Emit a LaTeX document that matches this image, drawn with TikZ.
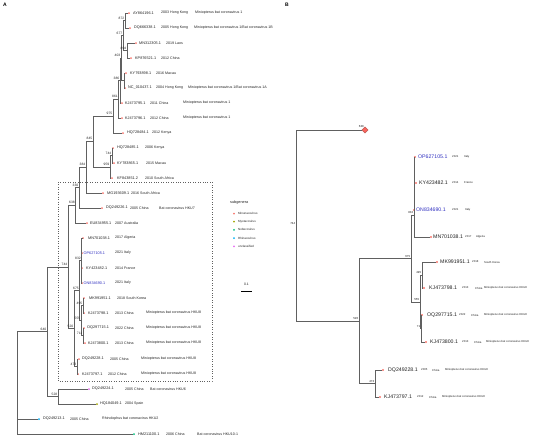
\documentclass[tikz,border=0pt]{standalone}
\usepackage{fontspec}
\setmainfont{Liberation Sans}
\usetikzlibrary{shapes.geometric}
\definecolor{cMin}{HTML}{F8766D}
\definecolor{cMyo}{HTML}{A3A500}
\definecolor{cNob}{HTML}{00BF7D}
\definecolor{cRhi}{HTML}{00B0F6}
\definecolor{cUnc}{HTML}{E76BF3}
\definecolor{brc}{HTML}{606060}
\definecolor{cBlue}{HTML}{3030C0}
\definecolor{txt}{HTML}{202020}
\begin{document}
\begin{tikzpicture}[x=1pt,y=-1pt,
  br/.style={draw=brc,line width=0.45pt},
  dotA/.style={circle,inner sep=0,minimum size=2pt,fill=cMin},
  dotB/.style={circle,inner sep=0,minimum size=2.3pt,fill=cMin},
  accA/.style={anchor=west,inner sep=0,text=txt,font=\fontsize{3.8}{4}\selectfont},
  infA/.style={anchor=west,inner sep=0,text=txt,font=\fontsize{3.6}{4}\selectfont},
  accB/.style={anchor=west,inner sep=0,text=txt,font=\fontsize{5.2}{6}\selectfont},
  infB/.style={anchor=west,inner sep=0,text=txt,font=\fontsize{2.8}{3}\selectfont},
  bs/.style={anchor=south east,inner sep=0,text=txt,font=\fontsize{3.3}{4}\selectfont},
  bsB/.style={anchor=south east,inner sep=0,text=txt,font=\fontsize{2.9}{3}\selectfont},
  legt/.style={anchor=west,inner sep=0,text=txt,font=\fontsize{3}{4}\selectfont},
  panel/.style={anchor=north west,inner sep=0,font=\fontsize{5}{6}\selectfont\bfseries}]
\useasboundingbox (0,0) rectangle (550,440);
\node[panel] (pA) at (3,3) {A};
\node[panel] (pB) at (285,3) {B};
% ---------- panel A tips ----------
\node[dotA] (t1) at (129,13) {};
\node[accA] (t1a) at (133,13) {AY864196.1};
\node[infA] (t1b) at (161,13) {2003 Hong Kong};
\node[infA] (t1c) at (195,13) {Miniopterus bat coronavirus 1};
\node[dotA] (t2) at (130,28) {};
\node[accA] (t2a) at (134,28) {DQ666338.1};
\node[infA] (t2b) at (161,28) {2005 Hong Kong};
\node[infA] (t2c) at (194,28) {Miniopterus bat coronavirus 1/Bat coronavirus 1B};
\node[dotA] (t3) at (136,43) {};
\node[accA] (t3a) at (139,43) {MN312305.1};
\node[infA] (t3b) at (166,43) {2019 Laos};
\node[dotA] (t4) at (131,58) {};
\node[accA] (t4a) at (135,58) {KP876521.1};
\node[infA] (t4b) at (161,58) {2012 China};
\node[dotA] (t5) at (126,73) {};
\node[accA] (t5a) at (130,73) {KY793898.1};
\node[infA] (t5b) at (156,73) {2016 Macau};
\node[dotA] (t6) at (125,88) {};
\node[accA] (t6a) at (128,88) {NC\_010437.1};
\node[infA] (t6b) at (156,88) {2004 Hong Kong};
\node[infA] (t6c) at (188,88) {Miniopterus bat coronavirus 1/Bat coronavirus 1A};
\node[dotA] (t7) at (122,103) {};
\node[accA] (t7a) at (125,103) {KJ473795.1};
\node[infA] (t7b) at (150,103) {2011 China};
\node[infA] (t7c) at (183,103) {Miniopterus bat coronavirus 1};
\node[dotA] (t8) at (122,118) {};
\node[accA] (t8a) at (125,118) {KJ473796.1};
\node[infA] (t8b) at (150,118) {2012 China};
\node[infA] (t8c) at (183,118) {Miniopterus bat coronavirus 1};
\node[dotA] (t9) at (123,133) {};
\node[accA] (t9a) at (127,133) {HQ728484.1};
\node[infA] (t9b) at (152,133) {2012 Kenya};
\node[dotA] (t10) at (113,148) {};
\node[accA] (t10a) at (117,148) {HQ728485.1};
\node[infA] (t10b) at (145,148) {2006 Kenya};
\node[dotA] (t11) at (114,163) {};
\node[accA] (t11a) at (117,163) {KY783865.1};
\node[infA] (t11b) at (146,163) {2015 Macau};
\node[dotA] (t12) at (112,178) {};
\node[accA] (t12a) at (117,178) {KF843851.2};
\node[infA] (t12b) at (145,178) {2010 South Africa};
\node[dotA] (t13) at (103,193) {};
\node[accA] (t13a) at (107,193) {MG193609.1};
\node[infA] (t13b) at (131,193) {2016 South Africa};
\node[dotA] (t14) at (102,208) {};
\node[accA] (t14a) at (106,208) {DQ249226.1};
\node[infA] (t14b) at (130,208) {2005 China};
\node[infA] (t14c) at (159,208) {Bat coronavirus HKU7};
\node[dotA] (t15) at (87,223) {};
\node[accA] (t15a) at (90,223) {EU834955.1};
\node[infA] (t15b) at (115,223) {2007 Australia};
\node[dotA] (t16) at (83,238) {};
\node[accA] (t16a) at (88,238) {MN701038.1};
\node[infA] (t16b) at (115,238) {2017 Algeria};
\node[dotA] (t17) at (82,253) {};
\node[accA,text=cBlue] (t17a) at (83.5,253) {OP627105.1};
\node[infA] (t17b) at (115,253) {2021 Italy};
\node[dotA] (t18) at (82,268) {};
\node[accA] (t18a) at (86,268) {KY423482.1};
\node[infA] (t18b) at (115,268) {2014 France};
\node[dotA] (t19) at (82,283) {};
\node[accA,text=cBlue] (t19a) at (83.5,283) {ON834690.1};
\node[infA] (t19b) at (115,283) {2021 Italy};
\node[dotA] (t20) at (84,298) {};
\node[accA] (t20a) at (89,298) {MK991951.1};
\node[infA] (t20b) at (117,298) {2018 South Korea};
\node[dotA] (t21) at (84,313) {};
\node[accA] (t21a) at (88,313) {KJ473798.1};
\node[infA] (t21b) at (115,313) {2013 China};
\node[infA] (t21c) at (146,313) {Miniopterus bat coronavirus HKU8};
\node[dotA] (t22) at (84,328) {};
\node[accA] (t22a) at (87,328) {OQ297715.1};
\node[infA] (t22b) at (115,328) {2022 China};
\node[infA] (t22c) at (146,328) {Miniopterus bat coronavirus HKU8};
\node[dotA] (t23) at (85,343) {};
\node[accA] (t23a) at (88,343) {KJ473800.1};
\node[infA] (t23b) at (115,343) {2013 China};
\node[infA] (t23c) at (146,343) {Miniopterus bat coronavirus HKU8};
\node[dotA] (t24) at (79,359) {};
\node[accA] (t24a) at (82,359) {DQ249228.1};
\node[infA] (t24b) at (110,359) {2005 China};
\node[infA] (t24c) at (141,359) {Miniopterus bat coronavirus HKU8};
\node[dotA] (t25) at (78,374) {};
\node[accA] (t25a) at (82,374) {KJ473797.1};
\node[infA] (t25b) at (108,374) {2012 China};
\node[infA] (t25c) at (141,374) {Miniopterus bat coronavirus HKU8};
\node[dotA,fill=cUnc] (t26) at (89,389) {};
\node[accA] (t26a) at (92,389) {DQ249224.1};
\node[infA] (t26b) at (125,389) {2005 China};
\node[infA] (t26c) at (150,389) {Bat coronavirus HKU6};
\node[dotA,fill=cMyo] (t27) at (97,404) {};
\node[accA] (t27a) at (100,404) {HQ184049.1};
\node[infA] (t27b) at (125,404) {2004 Spain};
\node[dotA,fill=cRhi] (t28) at (39,419) {};
\node[accA] (t28a) at (43,419) {DQ249213.1};
\node[infA] (t28b) at (70,419) {2005 China};
\node[infA] (t28c) at (102,419) {Rhinolophus bat coronavirus HKU2};
\node[dotA,fill=cNob] (t29) at (134,434) {};
\node[accA] (t29a) at (138,434) {HM211100.1};
\node[infA] (t29b) at (166,434) {2006 China};
\node[infA] (t29c) at (197,434) {Bat coronavirus HKU10-1};
% ---------- panel A internal nodes ----------
\coordinate (n872) at (125,20.5);
\coordinate (n894) at (127,50.5);
\coordinate (n677) at (123,35.5);
\coordinate (n56) at (124,80.5);
\coordinate (n403) at (121,58);
\coordinate (n386) at (120,80.5);
\coordinate (n861) at (118.5,99.25);
\coordinate (n975) at (113,116.1);
\coordinate (n744b) at (112,155.5);
\coordinate (n959) at (110,166.75);
\coordinate (n845) at (93,141.4);
\coordinate (n384) at (86,167.2);
\coordinate (nX) at (79,187.6);
\coordinate (n638) at (75.5,205.3);
\coordinate (n832) at (81.5,260.5);
\coordinate (n495) at (83,305.5);
\coordinate (n711) at (83,335.5);
\coordinate (n555) at (81,320.5);
\coordinate (n675) at (79.5,290.5);
\coordinate (n473) at (77,366.5);
\coordinate (n520) at (74,328.5);
\coordinate (n744) at (68,266.9);
\coordinate (n528) at (58,396.5);
\coordinate (n640) at (47,331.7);
\coordinate (rootA) at (17,395);
\draw[br] (n872) |- (t1); \draw[br] (n872) |- (t2);
\draw[br] (n894) |- (t3); \draw[br] (n894) |- (t4);
\draw[br] (n677) |- (n872); \draw[br] (n677) |- (n894);
\draw[br] (n56) |- (t5); \draw[br] (n56) |- (t6);
\draw[br] (n403) |- (n677); \draw[br] (n403) |- (n56);
\draw[br] (n386) |- (n403); \draw[br] (n386) |- (t7);
\draw[br] (n861) |- (n386); \draw[br] (n861) |- (t8);
\draw[br] (n975) |- (n861); \draw[br] (n975) |- (t9);
\draw[br] (n744b) |- (t10); \draw[br] (n744b) |- (t11);
\draw[br] (n959) |- (n744b); \draw[br] (n959) |- (t12);
\draw[br] (n845) |- (n975); \draw[br] (n845) |- (n959);
\draw[br] (n384) |- (n845); \draw[br] (n384) |- (t13);
\draw[br] (nX) |- (n384); \draw[br] (nX) |- (t14);
\draw[br] (n638) |- (nX); \draw[br] (n638) |- (t15);
\draw[br] (n832) |- (t16); \draw[br] (n832) |- (t17);
\draw[br] (n832) |- (t18); \draw[br] (n832) |- (t19);
\draw[br] (n495) |- (t20); \draw[br] (n495) |- (t21);
\draw[br] (n711) |- (t22); \draw[br] (n711) |- (t23);
\draw[br] (n555) |- (n495); \draw[br] (n555) |- (n711);
\draw[br] (n675) |- (n832); \draw[br] (n675) |- (n555);
\draw[br] (n473) |- (t24); \draw[br] (n473) |- (t25);
\draw[br] (n520) |- (n675); \draw[br] (n520) |- (n473);
\draw[br] (n744) |- (n638); \draw[br] (n744) |- (n520);
\draw[br] (n528) |- (t26); \draw[br] (n528) |- (t27);
\draw[br] (n640) |- (n744); \draw[br] (n640) |- (n528);
\draw[br] (rootA) |- (n640); \draw[br] (rootA) |- (t28); \draw[br] (rootA) |- (t29);
% bootstrap labels A
\node[bs] (l872) at ([shift={(-0.6,-1.2)}]n872) {872};
\node[bs] (l894) at ([shift={(-0.6,-1.2)}]n894) {894};
\node[bs] (l677) at ([shift={(-0.6,-1.2)}]n677) {677};
\node[bs] (l403) at ([shift={(-0.6,-1.2)}]n403) {403};
\node[bs] (l386) at ([shift={(-0.6,-1.2)}]n386) {386};
\node[bs] (l861) at ([shift={(-0.6,-1.2)}]n861) {861};
\node[bs] (l975) at ([shift={(-0.6,-1.2)}]n975) {975};
\node[bs] (l744b) at ([shift={(-0.6,-1.2)}]n744b) {744};
\node[bs] (l959) at ([shift={(-0.6,-1.2)}]n959) {959};
\node[bs] (l845) at ([shift={(-0.6,-1.2)}]n845) {845};
\node[bs] (l384) at ([shift={(-0.6,-1.2)}]n384) {384};
\node[bs] (lX) at ([shift={(-0.6,-1.2)}]nX) {330};
\node[bs] (l638) at ([shift={(-0.6,-1.2)}]n638) {638};
\node[bs] (l832) at ([shift={(-0.6,-1.2)}]n832) {832};
\node[bs] (l675) at ([shift={(-0.6,-1.2)}]n675) {675};
\node[bs] (l495) at ([shift={(-0.6,-1.2)}]n495) {495};
\node[bs] (l555) at ([shift={(-0.6,-1.2)}]n555) {555};
\node[bs] (l711) at ([shift={(-0.6,-1.2)}]n711) {711};
\node[bs] (l520) at ([shift={(-0.6,-1.2)}]n520) {520};
\node[bs] (l473) at ([shift={(-0.6,-1.2)}]n473) {473};
\node[bs] (l744) at ([shift={(-0.6,-1.2)}]n744) {744};
\node[bs] (l528) at ([shift={(-0.6,-1.2)}]n528) {528};
\node[bs] (l640) at ([shift={(-0.6,-1.2)}]n640) {640};
% dotted box
\draw[brc,dotted,line width=0.45pt] (58,182) rectangle (212,381);
% legend
\node[anchor=west,inner sep=0,text=txt,font=\fontsize{3.8}{4}\selectfont] (legT) at (230,203) {subgenera};
\node[dotA] (g1) at (234,213.5) {}; \node[legt] (g1t) at (238,213.5) {Minunacovirus};
\node[dotA,fill=cMyo] (g2) at (234,221.7) {}; \node[legt] (g2t) at (238,221.7) {Myotacovirus};
\node[dotA,fill=cNob] (g3) at (234,229.9) {}; \node[legt] (g3t) at (238,229.9) {Nobecovirus};
\node[dotA,fill=cRhi] (g4) at (234,238.1) {}; \node[legt] (g4t) at (238,238.1) {Rhinacovirus};
\node[dotA,fill=cUnc] (g5) at (234,246.3) {}; \node[legt] (g5t) at (238,246.3) {unclassified};
% scale bar
\coordinate (sb1) at (241,291); \coordinate (sb2) at (252,291);
\draw[black,line width=0.5pt] (sb1) -- (sb2);
\node[inner sep=0,text=txt,font=\fontsize{3.4}{4}\selectfont] (sbt) at (246.5,284.5) {0.1};
% ---------- panel B ----------
\node[dotB] (b1) at (415,157) {};
\node[accB,text=cBlue] (b1a) at (418,157) {OP627105.1};
\node[infB] (b1b) at (452,157) {2021};
\node[infB] (b1c) at (464,157) {Italy};
\node[dotB] (b2) at (416,183) {};
\node[accB] (b2a) at (419,183) {KY423482.1};
\node[infB] (b2b) at (452,183) {2014};
\node[infB] (b2c) at (464,183) {France};
\node[dotB] (b3) at (414,210) {};
\node[accB,text=cBlue] (b3a) at (416,210) {ON834690.1};
\node[infB] (b3b) at (452,210) {2021};
\node[infB] (b3c) at (465,210) {Italy};
\node[dotB] (b4) at (431,237) {};
\node[accB] (b4a) at (433,237) {MN701038.1};
\node[infB] (b4b) at (465,237) {2017};
\node[infB] (b4c) at (476,237) {Algeria};
\node[dotB] (b5) at (437,262) {};
\node[accB] (b5a) at (440,262) {MK991951.1};
\node[infB] (b5b) at (472,262) {2018};
\node[infB] (b5c) at (484,262) {South Korea};
\node[dotB] (b6) at (424,288) {};
\node[accB] (b6a) at (429,288) {KJ473798.1};
\node[infB] (b6b) at (462,288) {2013};
\node[infB] (b6c) at (475,288) {China};
\node[infB] (b6d) at (484,288) {Miniopterus bat coronavirus HKU8};
\node[dotB] (b7) at (422,315) {};
\node[accB] (b7a) at (427,315) {OQ297715.1};
\node[infB] (b7b) at (459,315) {2022};
\node[infB] (b7c) at (471,315) {China};
\node[infB] (b7d) at (484,315) {Miniopterus bat coronavirus HKU8};
\node[dotB] (b8) at (426,342) {};
\node[accB] (b8a) at (430,342) {KJ473800.1};
\node[infB] (b8b) at (462,342) {2013};
\node[infB] (b8c) at (474,342) {China};
\node[infB] (b8d) at (486,342) {Miniopterus bat coronavirus HKU8};
\node[dotB] (b9) at (383,370) {};
\node[accB] (b9a) at (388,370) {DQ249228.1};
\node[infB] (b9b) at (421,370) {2005};
\node[infB] (b9c) at (432,370) {China};
\node[infB] (b9d) at (445,370) {Miniopterus bat coronavirus HKU8};
\node[dotB] (b10) at (380,397) {};
\node[accB] (b10a) at (384,397) {KJ473797.1};
\node[infB] (b10b) at (417,397) {2012};
\node[infB] (b10c) at (429,397) {China};
\node[infB] (b10d) at (442,397) {Miniopterus bat coronavirus HKU8};
\node[diamond,fill=cMin!85!red,draw=cMin!70!black,line width=0.3pt,inner sep=0,minimum size=6.5pt] (dia) at (365,130) {};
\coordinate (m832) at (414,215);
\coordinate (m495) at (422,275);
\coordinate (m71) at (421,328.5);
\coordinate (m555) at (420,301.75);
\coordinate (m675) at (411,258.5);
\coordinate (m473) at (375,383.5);
\coordinate (m520) at (359,321);
\coordinate (rootB) at (296,225.5);
\draw[br] (m832) |- (b1); \draw[br] (m832) |- (b2);
\draw[br] (m832) |- (b3); \draw[br] (m832) |- (b4);
\draw[br] (m495) |- (b5); \draw[br] (m495) |- (b6);
\draw[br] (m71) |- (b7); \draw[br] (m71) |- (b8);
\draw[br] (m555) |- (m495); \draw[br] (m555) |- (m71);
\draw[br] (m675) |- (m832); \draw[br] (m675) |- (m555);
\draw[br] (m473) |- (b9); \draw[br] (m473) |- (b10);
\draw[br] (m520) |- (m675); \draw[br] (m520) |- (m473);
\draw[br] (rootB) |- (dia); \draw[br] (rootB) |- (m520);
\node[bsB] (k638) at ([shift={(-1,-2.5)}]dia) {638};
\node[bsB] (k832) at ([shift={(-0.6,-1.2)}]m832) {832};
\node[bsB] (k675) at ([shift={(-0.6,-1.2)}]m675) {675};
\node[bsB] (k495) at ([shift={(-0.6,-1.2)}]m495) {495};
\node[bsB] (k555) at ([shift={(-0.6,-1.2)}]m555) {555};
\node[bsB] (k71) at ([shift={(-0.6,-1.2)}]m71) {71};
\node[bsB] (k473) at ([shift={(-0.6,-1.2)}]m473) {473};
\node[bsB] (k520) at ([shift={(-0.6,-1.2)}]m520) {520};
\node[bsB] (k744) at ([shift={(-0.6,-1.2)}]rootB) {744};
\end{tikzpicture}
\end{document}
